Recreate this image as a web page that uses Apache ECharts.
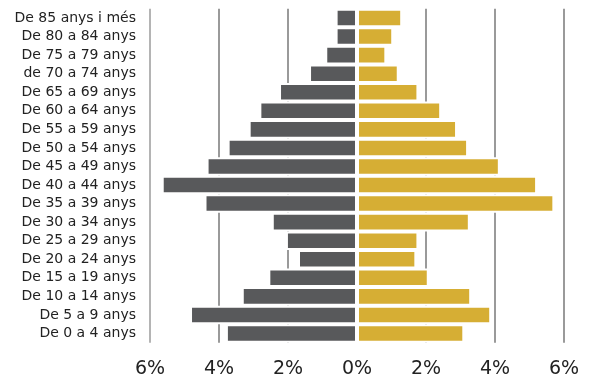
<!DOCTYPE html>
<html>
<head>
<meta charset="utf-8">
<script src="https://cdn.jsdelivr.net/npm/echarts@6/dist/echarts.min.js"></script>
<style>html,body{margin:0;padding:0;background:#fff}#c{width:589px;height:381px}</style>
</head>
<body>
<div id="c"></div>
<script>
const categories = ["De 85 anys i més","De 80 a 84 anys","De 75 a 79 anys","de 70 a 74 anys","De 65 a 69 anys","De 60 a 64 anys","De 55 a 59 anys","De 50 a 54 anys","De 45 a 49 anys","De 40 a 44 anys","De 35 a 39 anys","De 30 a 34 anys","De 25 a 29 anys","De 20 a 24 anys","De 15 a 19 anys","De 10 a 14 anys","De 5 a 9 anys","De 0 a 4 anys"];
const leftValues = [0.62,0.62,0.92,1.39,2.26,2.83,3.14,3.75,4.36,5.66,4.42,2.47,2.06,1.71,2.57,3.34,4.84,3.80];
const rightValues = [1.31,1.05,0.85,1.21,1.78,2.44,2.90,3.22,4.14,5.22,5.72,3.27,1.78,1.72,2.08,3.31,3.89,3.11];
const xMin = -6, xMax = 6, xStep = 2;

const chart = echarts.init(document.getElementById('c'), null, {renderer:'canvas'});
chart.setOption({
  animation:false,
  backgroundColor:'#fff',
  grid:{left:150, width:414, top:8.7, height:334.1},
  xAxis:{
    type:'value', min:xMin, max:xMax, interval:xStep,
    axisLine:{show:false}, axisTick:{show:false},
    axisLabel:{margin:17, fontFamily:'DejaVu Sans', fontSize:19, color:'#222',
      formatter:v=>Math.abs(v)+'%'},
    splitLine:{show:true, lineStyle:{width:2, color:['#b4b4b4','#9a9a9a','#9a9a9a','rgba(0,0,0,0)','#9a9a9a','#9a9a9a','#9a9a9a']}}
  },
  yAxis:{
    type:'category', data:categories, inverse:true,
    axisLine:{show:false}, axisTick:{show:false},
    axisLabel:{margin:14, fontFamily:'DejaVu Sans', fontSize:14, color:'#222'}
  },
  series:[
    {type:'bar', data:leftValues.map(v=>-v), barCategoryGap:0, barGap:'-100%',
     itemStyle:{color:'#58595b', borderColor:'#fff', borderWidth:2}},
    {type:'bar', data:rightValues, barCategoryGap:0, barGap:'-100%',
     itemStyle:{color:'#d6ae34', borderColor:'#fff', borderWidth:2}}
  ]
});
</script>
</body>
</html>
